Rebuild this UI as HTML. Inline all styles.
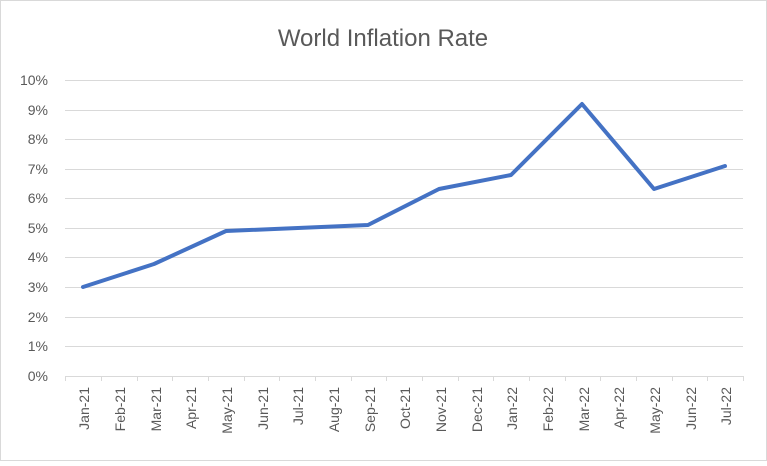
<!DOCTYPE html>
<html><head><style>body{margin:0;background:#fff}</style></head><body>
<svg width="767" height="461" xmlns="http://www.w3.org/2000/svg" font-family="Liberation Sans, sans-serif">
<rect x="0.5" y="0.5" width="766" height="460" fill="#fff" stroke="#d9d9d9"/>
<text x="383" y="46" text-anchor="middle" font-size="24" fill="#595959">World Inflation Rate</text>
<g stroke="#d9d9d9" stroke-width="1">
<line x1="65" x2="743" y1="80.5" y2="80.5"/><line x1="65" x2="743" y1="110.5" y2="110.5"/><line x1="65" x2="743" y1="139.5" y2="139.5"/><line x1="65" x2="743" y1="169.5" y2="169.5"/><line x1="65" x2="743" y1="198.5" y2="198.5"/><line x1="65" x2="743" y1="228.5" y2="228.5"/><line x1="65" x2="743" y1="257.5" y2="257.5"/><line x1="65" x2="743" y1="287.5" y2="287.5"/><line x1="65" x2="743" y1="317.5" y2="317.5"/><line x1="65" x2="743" y1="346.5" y2="346.5"/><line x1="65" x2="743" y1="376.5" y2="376.5"/>
</g>
<g stroke="#d9d9d9">
<line x1="65.5" x2="65.5" y1="376" y2="381"/><line x1="101.5" x2="101.5" y1="376" y2="381"/><line x1="137.5" x2="137.5" y1="376" y2="381"/><line x1="172.5" x2="172.5" y1="376" y2="381"/><line x1="208.5" x2="208.5" y1="376" y2="381"/><line x1="244.5" x2="244.5" y1="376" y2="381"/><line x1="279.5" x2="279.5" y1="376" y2="381"/><line x1="315.5" x2="315.5" y1="376" y2="381"/><line x1="351.5" x2="351.5" y1="376" y2="381"/><line x1="386.5" x2="386.5" y1="376" y2="381"/><line x1="422.5" x2="422.5" y1="376" y2="381"/><line x1="458.5" x2="458.5" y1="376" y2="381"/><line x1="493.5" x2="493.5" y1="376" y2="381"/><line x1="529.5" x2="529.5" y1="376" y2="381"/><line x1="565.5" x2="565.5" y1="376" y2="381"/><line x1="600.5" x2="600.5" y1="376" y2="381"/><line x1="636.5" x2="636.5" y1="376" y2="381"/><line x1="672.5" x2="672.5" y1="376" y2="381"/><line x1="707.5" x2="707.5" y1="376" y2="381"/><line x1="743.5" x2="743.5" y1="376" y2="381"/>
</g>
<g font-size="14" fill="#595959" text-anchor="end">
<text x="48" y="85">10%</text><text x="48" y="115">9%</text><text x="48" y="144">8%</text><text x="48" y="174">7%</text><text x="48" y="203">6%</text><text x="48" y="233">5%</text><text x="48" y="262">4%</text><text x="48" y="292">3%</text><text x="48" y="322">2%</text><text x="48" y="351">1%</text><text x="48" y="381">0%</text>
</g>
<g font-size="14" fill="#595959" text-anchor="end">
<text transform="translate(89,387) rotate(-90)">Jan-21</text>
<text transform="translate(125,387) rotate(-90)">Feb-21</text>
<text transform="translate(161,387) rotate(-90)">Mar-21</text>
<text transform="translate(196,387) rotate(-90)">Apr-21</text>
<text transform="translate(232,387) rotate(-90)">May-21</text>
<text transform="translate(268,387) rotate(-90)">Jun-21</text>
<text transform="translate(303,387) rotate(-90)">Jul-21</text>
<text transform="translate(339,387) rotate(-90)">Aug-21</text>
<text transform="translate(375,387) rotate(-90)">Sep-21</text>
<text transform="translate(410,387) rotate(-90)">Oct-21</text>
<text transform="translate(446,387) rotate(-90)">Nov-21</text>
<text transform="translate(482,387) rotate(-90)">Dec-21</text>
<text transform="translate(517,387) rotate(-90)">Jan-22</text>
<text transform="translate(553,387) rotate(-90)">Feb-22</text>
<text transform="translate(589,387) rotate(-90)">Mar-22</text>
<text transform="translate(624,387) rotate(-90)">Apr-22</text>
<text transform="translate(660,387) rotate(-90)">May-22</text>
<text transform="translate(696,387) rotate(-90)">Jun-22</text>
<text transform="translate(731,387) rotate(-90)">Jul-22</text>
</g>
<polyline fill="none" stroke="#4472c4" stroke-width="4" stroke-linejoin="round" stroke-linecap="round"
points="83,287 154,264 226,231 368,225 439,189 511,175 582,104 654,189 725,166"/>
</svg>
</body></html>
